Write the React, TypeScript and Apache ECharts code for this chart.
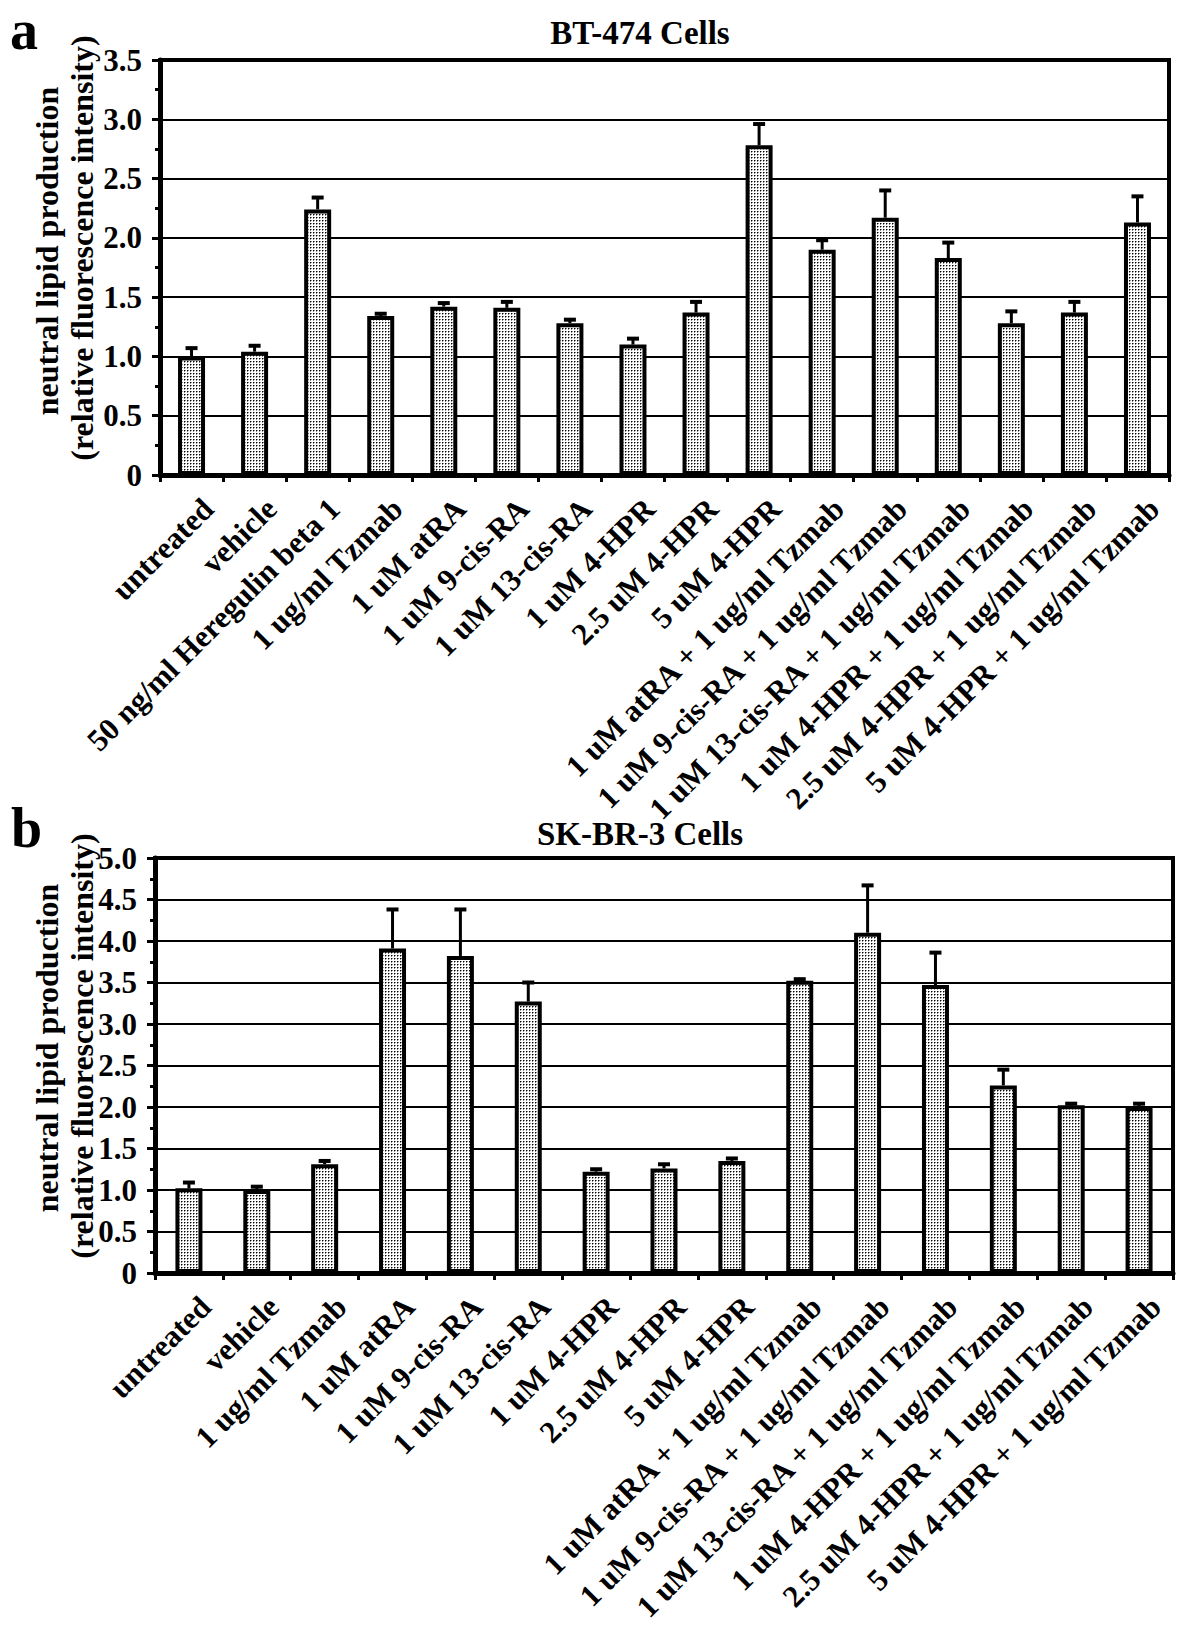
import React, { useEffect, useRef } from "react";
import * as echarts from "echarts";

const categoriesA = [
  "untreated",
  "vehicle",
  "50 ng/ml Heregulin beta 1",
  "1 ug/ml Tzmab",
  "1 uM atRA",
  "1 uM 9-cis-RA",
  "1 uM 13-cis-RA",
  "1 uM 4-HPR",
  "2.5 uM 4-HPR",
  "5 uM 4-HPR",
  "1 uM atRA + 1 ug/ml Tzmab",
  "1 uM 9-cis-RA + 1 ug/ml Tzmab",
  "1 uM 13-cis-RA + 1 ug/ml Tzmab",
  "1 uM 4-HPR + 1 ug/ml Tzmab",
  "2.5 uM 4-HPR + 1 ug/ml Tzmab",
  "5 uM 4-HPR + 1 ug/ml Tzmab",
];
const valuesA = [1.0, 1.04, 2.24, 1.34, 1.42, 1.41, 1.28, 1.1, 1.37, 2.78, 1.9, 2.17, 1.83, 1.28, 1.37, 2.13];
const errorTopA = [1.07, 1.09, 2.34, 1.36, 1.45, 1.46, 1.31, 1.15, 1.46, 2.96, 1.98, 2.4, 1.96, 1.38, 1.46, 2.35];

const categoriesB = [
  "untreated",
  "vehicle",
  "1 ug/ml Tzmab",
  "1 uM atRA",
  "1 uM 9-cis-RA",
  "1 uM 13-cis-RA",
  "1 uM 4-HPR",
  "2.5 uM 4-HPR",
  "5 uM 4-HPR",
  "1 uM atRA + 1 ug/ml Tzmab",
  "1 uM 9-cis-RA + 1 ug/ml Tzmab",
  "1 uM 13-cis-RA + 1 ug/ml Tzmab",
  "1 uM 4-HPR + 1 ug/ml Tzmab",
  "2.5 uM 4-HPR + 1 ug/ml Tzmab",
  "5 uM 4-HPR + 1 ug/ml Tzmab",
];
const valuesB = [1.02, 1.0, 1.31, 3.91, 3.82, 3.27, 1.22, 1.26, 1.35, 3.52, 4.1, 3.47, 2.26, 2.02, 2.0];
const errorTopB = [1.09, 1.04, 1.35, 4.38, 4.38, 3.5, 1.25, 1.31, 1.38, 3.54, 4.67, 3.86, 2.45, 2.04, 2.04];

const yMaxA = 3.5;
const yMaxB = 5.0;
const yStep = 0.5;

const titleA = "BT-474 Cells";
const titleB = "SK-BR-3 Cells";
const yNameLine1 = "neutral lipid production";
const yNameLine2 = "(relative fluorescence intensity)";

const FONT = '"Liberation Serif", "Times New Roman", serif';

function makePattern() {
  const c = document.createElement("canvas");
  c.width = 3;
  c.height = 3;
  const ctx = c.getContext("2d")!;
  ctx.fillStyle = "#ffffff";
  ctx.fillRect(0, 0, 3, 3);
  ctx.fillStyle = "#8a8a8a";
  ctx.fillRect(2, 1, 1, 1);
  ctx.fillRect(1, 2, 1, 1);
  ctx.fillStyle = "#000000";
  ctx.fillRect(1, 1, 1, 1);
  return c;
}

function yAxisCfg(gridIndex: number, max: number) {
  return {
    type: "value",
    gridIndex,
    min: 0,
    max,
    interval: yStep,
    axisLine: { show: true, lineStyle: { color: "#000", width: 5 } },
    axisTick: { show: true, length: 8, lineStyle: { color: "#000", width: 3 } },
    minorTick: { show: true, splitNumber: 2, length: 5, lineStyle: { color: "#000", width: 3 } },
    splitLine: { show: true, lineStyle: { color: "#000", width: 2 } },
    axisLabel: {
      color: "#000",
      fontFamily: FONT,
      fontWeight: "bold",
      fontSize: 31,
      margin: 18,
      formatter: (v: number) => (v === 0 ? "0" : v.toFixed(1)),
    },
  };
}

function xAxisCfg(gridIndex: number, data: string[]) {
  return {
    type: "category",
    gridIndex,
    data,
    axisLine: { show: true, lineStyle: { color: "#000", width: 5 } },
    axisTick: { show: true, length: 7, lineStyle: { color: "#000", width: 3 } },
    splitLine: { show: false },
    axisLabel: {
      interval: 0,
      rotate: 45,
      align: "right",
      verticalAlign: "top",
      margin: 12,
      padding: [8, 0, 0, 0],
      color: "#000",
      fontFamily: FONT,
      fontWeight: "bold",
      fontSize: 31,
      hideOverlap: false,
    },
  };
}

function errorRender(params: any, api: any) {
  const base = api.coord([api.value(0), api.value(1)]);
  const top = api.coord([api.value(0), api.value(2)]);
  return {
    type: "group",
    children: [
      {
        type: "line",
        shape: { x1: base[0], y1: base[1], x2: top[0], y2: top[1] },
        style: { stroke: "#000", lineWidth: 3 },
      },
      {
        type: "line",
        shape: { x1: top[0] - 6, y1: top[1], x2: top[0] + 6, y2: top[1] },
        style: { stroke: "#000", lineWidth: 4 },
      },
    ],
  };
}

function textEl(text: string, x: number, y: number, size: number, rotation = 0, align = "center") {
  return {
    type: "text",
    x,
    y,
    rotation,
    style: {
      text,
      fill: "#000",
      font: `bold ${size}px ${FONT}`,
      align,
      textAlign: align,
      verticalAlign: "middle",
      textVerticalAlign: "middle",
    },
  };
}

export default function App() {
  const ref = useRef<HTMLDivElement>(null);
  useEffect(() => {
    if (!ref.current) return;
    const chart = echarts.init(ref.current, null, { renderer: "svg" });
    const pattern = { image: makePattern(), repeat: "repeat", imageWidth: 3, imageHeight: 3 };
    const barStyle = { color: pattern as any, borderColor: "#000", borderWidth: 4 };

    chart.setOption({
      animation: false,
      backgroundColor: "#fff",
      grid: [
        { left: 160, top: 60, width: 1009, height: 415, show: true, borderColor: "#000", borderWidth: 4, backgroundColor: "transparent" },
        { left: 155, top: 858, width: 1018, height: 415, show: true, borderColor: "#000", borderWidth: 4, backgroundColor: "transparent" },
      ],
      xAxis: [xAxisCfg(0, categoriesA), xAxisCfg(1, categoriesB)],
      yAxis: [yAxisCfg(0, yMaxA), yAxisCfg(1, yMaxB)],
      graphic: [
        textEl("a", 10, 30, 56, 0, "left"),
        textEl("b", 11, 828, 56, 0, "left"),
        textEl(titleA, 640, 33, 33),
        textEl(titleB, 640, 834, 33),
        textEl(yNameLine1, 47, 251, 32, Math.PI / 2),
        textEl(yNameLine2, 82, 248, 32, Math.PI / 2),
        textEl(yNameLine1, 47, 1048, 32, Math.PI / 2),
        textEl(yNameLine2, 82, 1046, 32, Math.PI / 2),
      ],
      series: [
        {
          type: "bar",
          xAxisIndex: 0,
          yAxisIndex: 0,
          data: valuesA,
          barWidth: 27,
          itemStyle: barStyle,
          z: 3,
        },
        {
          type: "custom",
          xAxisIndex: 0,
          yAxisIndex: 0,
          data: valuesA.map((v, i) => [i, v, errorTopA[i]]),
          renderItem: errorRender,
          z: 4,
        },
        {
          type: "bar",
          xAxisIndex: 1,
          yAxisIndex: 1,
          data: valuesB,
          barWidth: 27,
          itemStyle: barStyle,
          z: 3,
        },
        {
          type: "custom",
          xAxisIndex: 1,
          yAxisIndex: 1,
          data: valuesB.map((v, i) => [i, v, errorTopB[i]]),
          renderItem: errorRender,
          z: 4,
        },
      ],
    });
    return () => chart.dispose();
  }, []);
  return (
    <div
      ref={ref}
      style={{ position: "absolute", left: 0, top: 0, width: 1200, height: 1636, background: "#fff" }}
    />
  );
}
